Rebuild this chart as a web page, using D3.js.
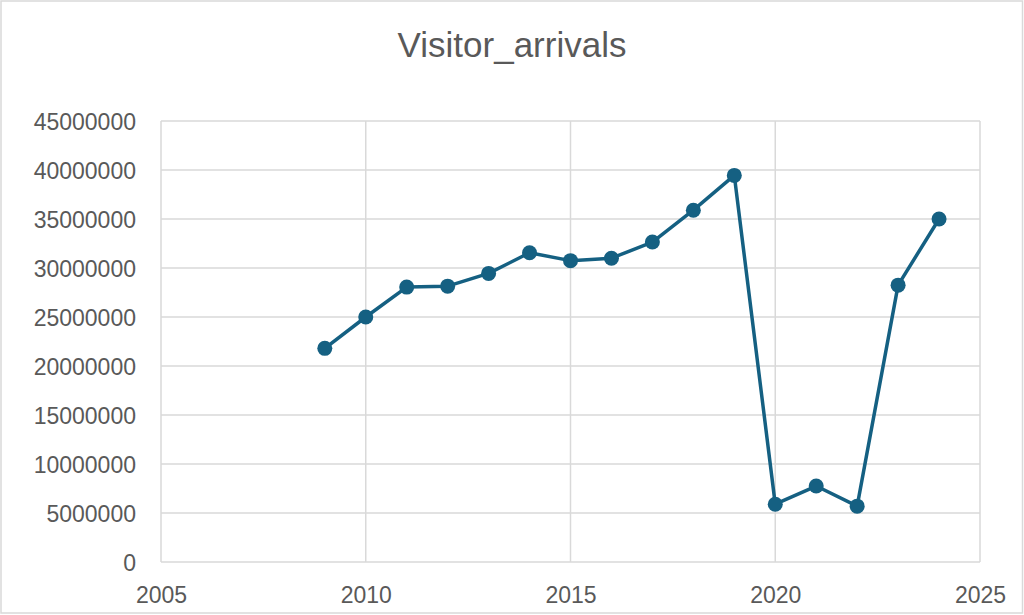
<!DOCTYPE html>
<html><head><meta charset="utf-8">
<script src="https://cdn.jsdelivr.net/npm/d3@7"></script>
<style>body{margin:0;background:#fff;} svg{display:block;}</style>
</head><body>
<svg id="c" width="1024" height="615"></svg>
<script>
const title = "Visitor_arrivals";
const years = [2009,2010,2011,2012,2013,2014,2015,2016,2017,2018,2019,2020,2021,2022,2023,2024];
const arrivals = [21800000,25000000,28050000,28150000,29450000,31550000,30750000,31000000,32650000,35900000,39450000,5900000,7750000,5700000,28250000,35000000];
const xTicks = [2005,2010,2015,2020,2025];
const yTicks = [0,5000000,10000000,15000000,20000000,25000000,30000000,35000000,40000000,45000000];

const svg = d3.select("#c");
const m={l:161,r:980,t:121,b:562};
const x=d3.scaleLinear().domain([2005,2025]).range([m.l,m.r]);
const y=d3.scaleLinear().domain([0,45000000]).range([m.b,m.t]);

svg.append("rect").attr("x",1).attr("y",1).attr("width",1021.5).attr("height",612)
  .attr("fill","#fff").attr("stroke","#d9d9d9").attr("stroke-width",1.5);

const font="'Liberation Sans', Arial, sans-serif";
svg.append("text").attr("x",512).attr("y",57).attr("text-anchor","middle")
  .attr("font-family",font).attr("font-size",35)
  .attr("fill","#595959").text(title);

svg.append("g").selectAll("line").data(yTicks).join("line")
  .attr("x1",m.l).attr("x2",m.r).attr("y1",d=>y(d)).attr("y2",d=>y(d))
  .attr("stroke","#d9d9d9").attr("stroke-width",1.5);
svg.append("g").selectAll("line").data(xTicks).join("line")
  .attr("x1",d=>x(d)).attr("x2",d=>x(d)).attr("y1",m.t).attr("y2",m.b)
  .attr("stroke","#d9d9d9").attr("stroke-width",1.5);

const ya=svg.append("g").attr("transform",`translate(${m.l-22},0)`)
  .call(d3.axisLeft(y).tickValues(yTicks).tickFormat(d3.format("d")).tickSize(0));
ya.select(".domain").remove();
ya.selectAll("text").attr("font-family",font).attr("font-size",23).attr("fill","#595959").attr("dy","0.35em");

const xa=svg.append("g").attr("transform",`translate(0,${m.b+22})`)
  .call(d3.axisBottom(x).tickValues(xTicks).tickFormat(d3.format("d")).tickSize(0));
xa.select(".domain").remove();
xa.selectAll("text").attr("font-family",font).attr("font-size",23).attr("fill","#595959");

const data=years.map((yr,i)=>({yr,v:arrivals[i]}));
svg.append("path").datum(data)
  .attr("d",d3.line().x(d=>x(d.yr)).y(d=>y(d.v)))
  .attr("fill","none").attr("stroke","#156082").attr("stroke-width",3.5).attr("stroke-linejoin","round");
svg.append("g").selectAll("circle").data(data).join("circle")
  .attr("cx",d=>x(d.yr)).attr("cy",d=>y(d.v)).attr("r",7.5).attr("fill","#156082");
</script>
</body></html>
